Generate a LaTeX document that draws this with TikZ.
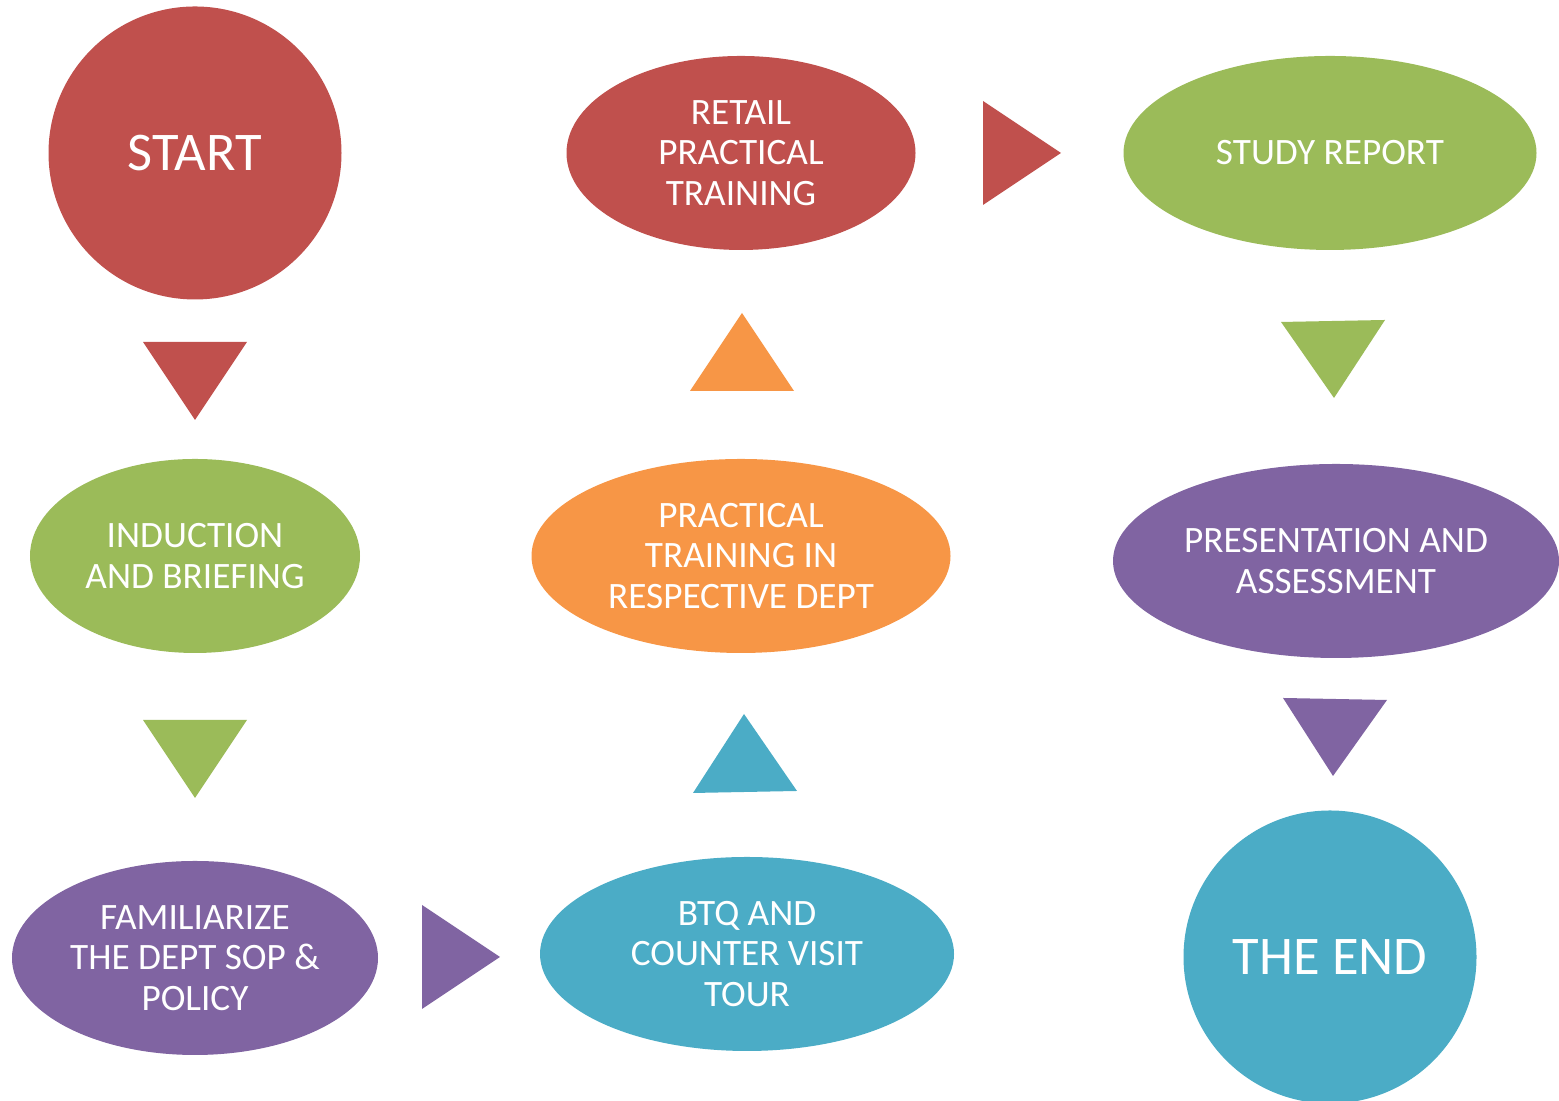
\documentclass[tikz,border=0pt]{standalone}
\usepackage{fontspec}
\setmainfont{Carlito}
\usetikzlibrary{shapes.geometric}
\definecolor{ored}{HTML}{C0504D}
\definecolor{ogreen}{HTML}{9BBB59}
\definecolor{opurple}{HTML}{8064A2}
\definecolor{oorange}{HTML}{F79646}
\definecolor{ocyan}{HTML}{4BACC6}
\begin{document}
\begin{tikzpicture}[
  blob/.style={ellipse, inner sep=0, outer sep=0, text=white, align=center,
    font=\fontsize{10.6}{11.6}\selectfont, minimum height=1.94cm},
  big/.style={circle, inner sep=0, outer sep=0, text=white,
    font=\fontsize{15.5}{18}\selectfont, minimum size=2.93cm}]
  \useasboundingbox (0, 0) rectangle (15.59, 11.01);

  %% first column
  \node[big, fill=ored] (start) at (1.95, 9.48) {START};
  \node[blob, fill=ogreen, minimum width=3.30cm] (induct) at (1.95, 5.45)
    {INDUCTION\\AND BRIEFING};
  \node[blob, fill=opurple, minimum width=3.66cm] (famil) at (1.95, 1.43)
    {FAMILIARIZE\\THE DEPT SOP \&\\POLICY};

  %% second column
  \node[blob, fill=ocyan, minimum width=4.14cm] (btq) at (7.47, 1.47)
    {BTQ AND\\COUNTER VISIT\\TOUR};
  \node[blob, fill=oorange, minimum width=4.19cm] (pract) at (7.41, 5.45)
    {PRACTICAL\\TRAINING IN\\RESPECTIVE DEPT};
  \node[blob, fill=ored, minimum width=3.49cm] (retail) at (7.41, 9.48)
    {RETAIL\\PRACTICAL\\TRAINING};

  %% third column
  \node[blob, fill=ogreen, minimum width=4.13cm] (study) at (13.30, 9.48)
    {STUDY REPORT};
  \node[blob, fill=opurple, minimum width=4.46cm] (present) at (13.36, 5.40)
    {PRESENTATION AND\\ASSESSMENT};
  \node[big, fill=ocyan] (theend) at (13.30, 1.44) {THE END};

  %% triangles
  \fill[ored] (1.43, 7.59) -- (2.47, 7.59) -- (1.95, 6.81) -- cycle;
  \fill[ogreen] (1.43, 3.81) -- (2.47, 3.81) -- (1.95, 3.03) -- cycle;
  \fill[opurple] (4.22, 1.96) -- (4.22, 0.92) -- (5.00, 1.44) -- cycle;
  \fill[ocyan] (6.93, 3.08) -- (7.97, 3.10) -- (7.44, 3.87) -- cycle;
  \fill[oorange] (6.90, 7.10) -- (7.94, 7.10) -- (7.42, 7.88) -- cycle;
  \fill[ored] (9.83, 10.00) -- (9.83, 8.96) -- (10.61, 9.48) -- cycle;
  \fill[ogreen] (12.81, 7.79) -- (13.85, 7.81) -- (13.34, 7.03) -- cycle;
  \fill[opurple] (12.83, 4.03) -- (13.87, 4.01) -- (13.33, 3.25) -- cycle;
\end{tikzpicture}
\end{document}
